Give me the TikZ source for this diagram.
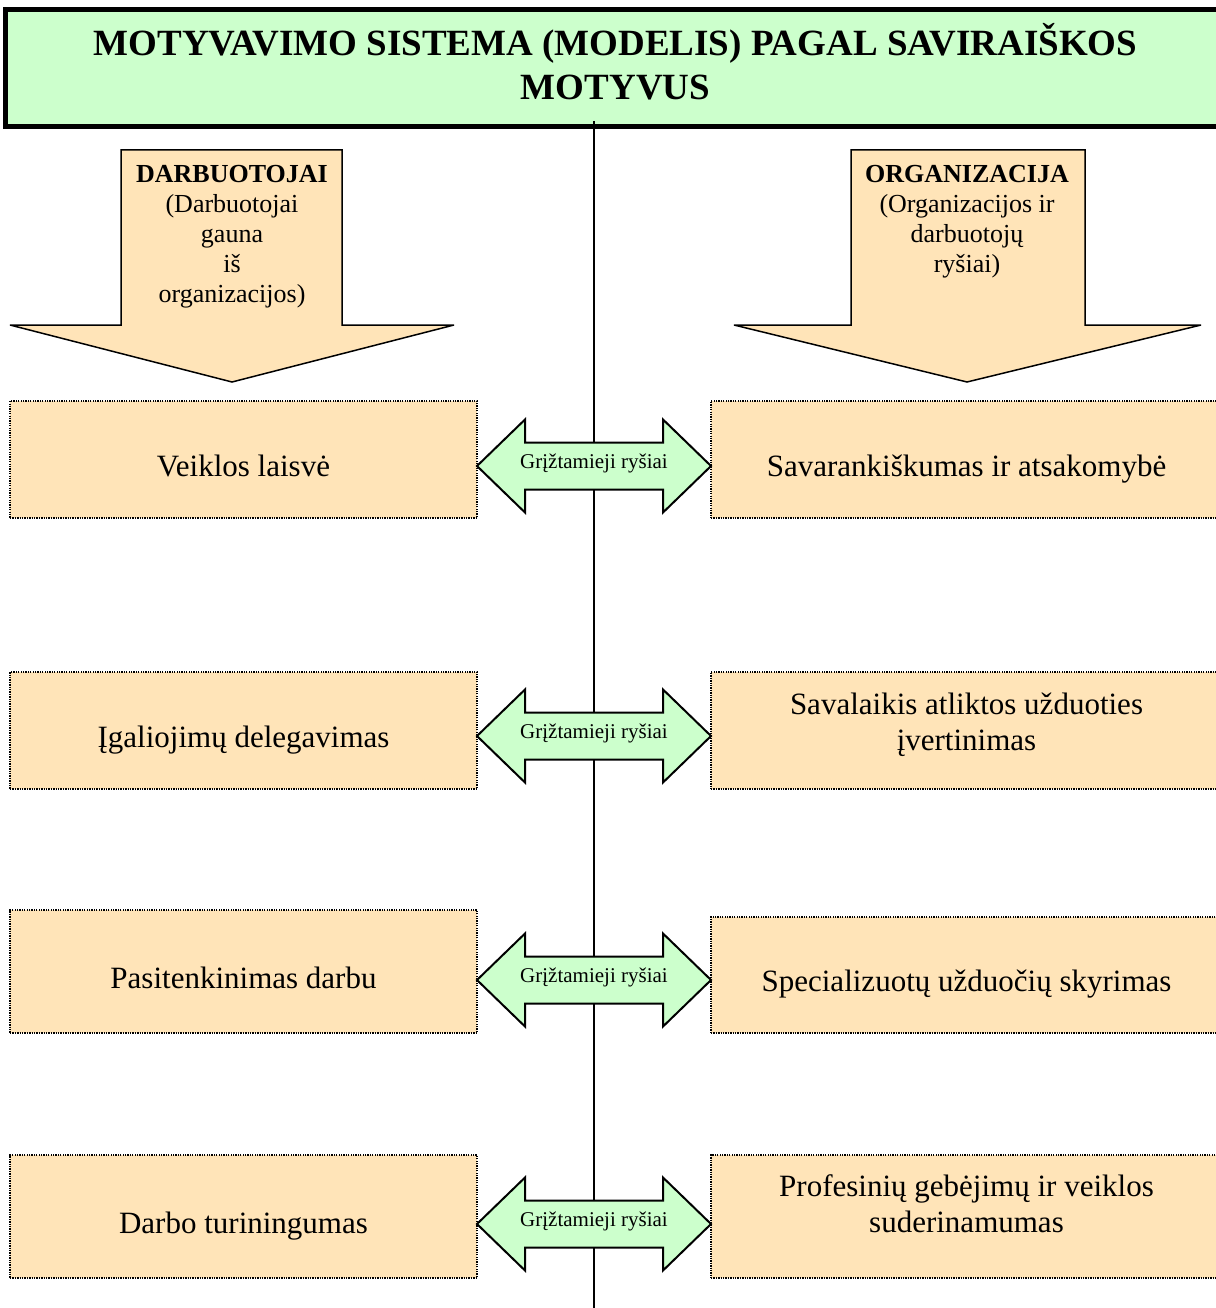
\documentclass[tikz,border=0pt]{standalone}
\usepackage{fontspec}
\setmainfont{Liberation Serif}
\usepackage{xcolor}
\usepackage{tikz}

\definecolor{titlegreen}{HTML}{CCFFCC}
\definecolor{peach}{HTML}{FFE4B8}

\begin{document}
\begin{tikzpicture}[x=1pt, y=-1pt,
    titlebox/.style={draw, line width=5pt, fill=titlegreen, inner sep=0pt,
        minimum width=1220, minimum height=117, font=\fontsize{37}{44}\selectfont\bfseries},
    box/.style={draw, fill=peach, line width=2pt, dash pattern=on 1.3pt off 1.1pt,
        inner sep=0pt, font=\fontsize{31}{36}\selectfont},
    oneline/.style={text height=33, text depth=0},
    twolines/.style={text height=44, text depth=#1},
    lbox/.style={box, minimum width=467},
    rbox/.style={box, minimum width=511},
    bigarrow/.style={draw, fill=peach, line width=1.5pt, line join=miter, miter limit=2},
    arrowtext/.style={inner sep=0pt, align=center, anchor=north, font=\fontsize{26}{30}\selectfont},
    fbarrow/.style={draw, fill=titlegreen, line width=2pt, line join=miter},
    fblabel/.style={inner sep=0pt, font=\fontsize{21}{24}\selectfont}]

    \useasboundingbox (0,0) rectangle (1215,1308);

    % title and the middle line
    \node[titlebox] (title) at (615.5,68) {\begin{tabular}{@{}c@{}}MOTYVAVIMO SISTEMA (MODELIS) PAGAL SAVIRAIŠKOS\\MOTYVUS\end{tabular}};
    \coordinate (bottom) at (594,1308);
    \draw[line width=2pt] ([yshift=8pt]title.south -| bottom) -- (bottom);

    % the two big arrows
    \draw[bigarrow] (121,150) -- (342,150) -- (342,325) -- (454,325) -- (232,382) -- (10,325) -- (121,325) -- cycle;
    \node[arrowtext] (darb) at (232,165) {\textbf{DARBUOTOJAI}\\(Darbuotojai\\gauna\\iš\\organizacijos)};
    \draw[bigarrow] (851,150) -- (1085,150) -- (1085,325) -- (1201,325) -- (967,382) -- (734,325) -- (851,325) -- cycle;
    \node[arrowtext] (org) at (967,165) {\textbf{ORGANIZACIJA}\\(Organizacijos ir\\darbuotojų\\ryšiai)};

    % boxes
    \node[lbox, oneline, minimum height=117] (l1) at (243.5,459.5) {Veiklos laisvė};
    \node[rbox, oneline, minimum height=117] (r1) at (966.5,459.5) {Savarankiškumas ir atsakomybė};
    \node[lbox, oneline, minimum height=117] (l2) at (243.5,730.5) {Įgaliojimų delegavimas};
    \node[rbox, twolines=42, minimum height=117] (r2) at (966.5,730.5) {\begin{tabular}{@{}c@{}}Savalaikis atliktos užduoties\\įvertinimas\end{tabular}};
    \node[lbox, oneline, minimum height=123] (l3) at (243.5,971.5) {Pasitenkinimas darbu};
    \node[rbox, oneline, minimum height=116] (r3) at (966.5,975) {Specializuotų užduočių skyrimas};
    \node[lbox, oneline, minimum height=123] (l4) at (243.5,1216.5) {Darbo turiningumas};
    \node[rbox, twolines=50, minimum height=123] (r4) at (966.5,1216.5) {\begin{tabular}{@{}c@{}}Profesinių gebėjimų ir veiklos\\suderinamumas\end{tabular}};

    % feedback arrows
    \foreach \yc [count=\i] in {466,736,980,1224} {
        \draw[fbarrow] (477,\yc) -- (525,{\yc-46.5}) -- (525,{\yc-23.5}) -- (663,{\yc-23.5}) -- (663,{\yc-46.5})
            -- (711,\yc) -- (663,{\yc+46.5}) -- (663,{\yc+23.5}) -- (525,{\yc+23.5}) -- (525,{\yc+46.5}) -- cycle;
        \node[fblabel] (fb\i) at (594,{\yc-3}) {Grįžtamieji ryšiai};
    }
\end{tikzpicture}
\end{document}
